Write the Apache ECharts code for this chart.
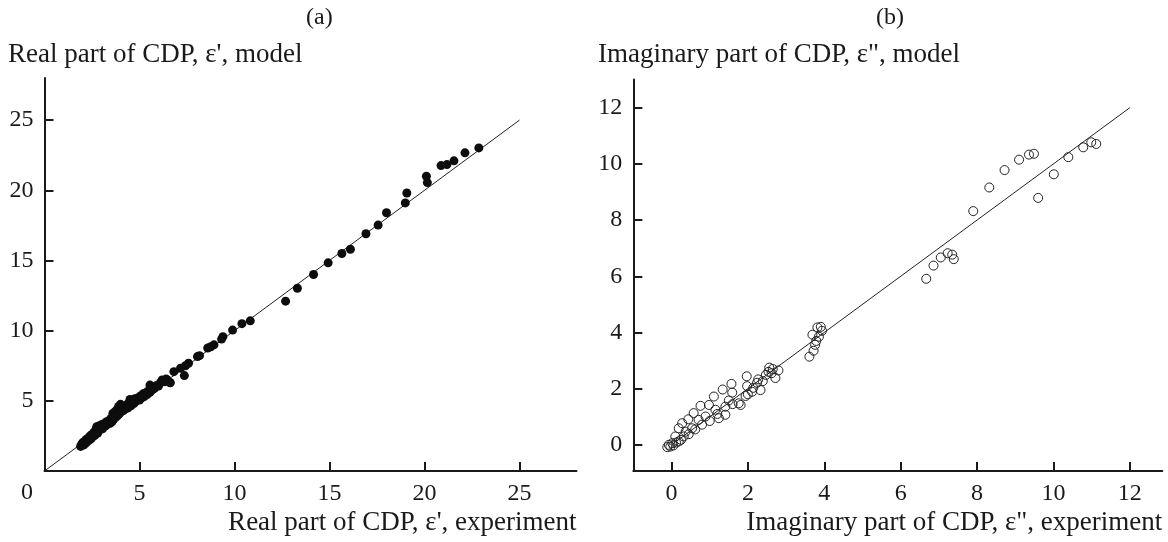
<!DOCTYPE html>
<html>
<head>
<meta charset="utf-8">
<script src="https://cdn.jsdelivr.net/npm/echarts@6/dist/echarts.min.js"></script>
<style>
html, body { margin: 0; padding: 0; background: #fff; }
#chart { width: 1168px; height: 542px; }
</style>
</head>
<body>
<div id="chart"></div>
<script>
// (a) real part of CDP: experiment (x) vs model (y)
const realExp = [
  22.86, 22.13, 21.55, 21.18, 20.87, 20.1, 20.15, 19.07, 18.99, 18.0, 17.56, 16.92, 16.1, 15.65, 14.93, 14.16, 13.31, 12.69,
  10.83, 10.39, 9.9, 9.39, 9.32, 8.92, 8.59, 8.75, 8.16, 8.05, 7.58, 7.42, 7.16, 7.36, 6.81, 6.62, 6.19, 6.4, 5.55,
  1.9, 1.95, 2.0, 2.05, 2.1, 2.15, 2.2, 2.25, 2.3, 2.35, 2.4, 2.45, 2.5, 2.55, 2.6, 2.65, 2.7, 2.75, 2.8, 2.85,
  2.9, 2.95, 3.0, 3.05, 3.1, 3.2, 3.25, 3.3, 3.4, 3.45, 3.5, 3.55, 3.6, 3.65, 3.7, 3.75, 3.8, 3.85, 3.9, 3.95,
  4.0, 4.05, 4.1, 4.15, 4.2, 4.3, 4.35, 4.4, 4.5, 4.55, 4.6, 4.7, 4.75, 4.8, 4.9, 5.0, 5.05, 5.1, 5.2, 5.25,
  5.35, 5.4, 5.5, 5.55, 5.65, 5.7, 5.8, 5.9, 6.0, 6.1, 6.3, 6.45, 6.6
]
const realModel = [
  23.02, 22.67, 22.1, 21.83, 21.76, 21.0, 20.55, 19.81, 19.1, 18.4, 17.52, 16.9, 15.8, 15.5, 14.83, 14.0, 13.02, 12.1,
  10.7, 10.5, 10.04, 9.57, 9.4, 8.99, 8.76, 8.85, 8.22, 8.15, 7.68, 7.5, 7.32, 6.8, 7.08, 6.29, 6.48, 6.55, 6.12,
  1.75, 1.9, 2.0, 1.85, 2.1, 1.95, 2.25, 2.1, 2.35, 2.2, 2.5, 2.3, 2.6, 2.45, 2.75, 2.55, 2.95, 3.15, 2.7, 3.2,
  2.95, 3.1, 3.3, 3.0, 3.35, 3.2, 3.5, 3.3, 3.6, 3.4, 3.75, 3.5, 4.1, 3.7, 4.2, 3.85, 4.35, 3.95, 4.6, 4.1,
  4.75, 4.25, 4.5, 4.3, 4.6, 4.45, 4.75, 4.5, 5.1, 4.65, 4.9, 4.8, 5.15, 4.95, 5.2, 5.05, 5.35, 5.2, 5.5, 5.3,
  5.6, 5.45, 5.75, 5.6, 6.0, 5.8, 5.9, 6.1, 6.05, 6.3, 6.35, 6.5, 6.3
]
const realTicks = [5, 10, 15, 20, 25]
const realLine = [0, 25]

// (b) imaginary part of CDP: experiment (x) vs model (y)
const imagExp = [
  6.67, 6.86, 7.05, 7.23, 7.35, 7.39, 7.9, 8.32, 8.72, 9.1, 9.36, 9.49, 9.6, 10.01, 10.39, 10.78, 10.99, 11.12,
  3.61, 3.72, 3.76, 3.79, 3.69, 3.86, 3.82, 3.91, 3.94,
  2.8, 2.72, 2.56, 2.54, 2.47, 2.39, 2.27, 2.33, 2.11, 1.97, 1.98, 2.24, 2.14, 1.57, 1.59, 1.34, 1.11, 1.81,
  1.94, 1.5, 1.41, 0.98, 1.15, 1.24, 1.41, 1.76, 0.76, 0.58, 0.44, 0.28, 0.19, 0.71, 0.89, 0.37, 0.1, 0.54,
  0.32, 0.19, 0.02, -0.07, -0.03, -0.11, 0.05, 0.12, 0.25, 0.45, 0.62, 0.8, 1.0, 1.2, 1.6, 2.0, 2.62, 2.65
]
const imagModel = [
  5.91, 6.38, 6.67, 6.82, 6.77, 6.61, 8.32, 9.16, 9.78, 10.15, 10.33, 10.36, 8.79, 9.63, 10.24, 10.59, 10.77, 10.71,
  3.14, 3.35, 3.56, 3.7, 3.92, 3.85, 4.18, 4.2, 4.06,
  2.65, 2.38, 2.75, 2.6, 2.49, 2.27, 2.33, 1.95, 1.89, 2.44, 2.09, 2.21, 2.03, 2.17, 1.86, 1.97, 1.72, 1.42,
  1.74, 1.58, 1.36, 1.42, 1.25, 0.95, 1.07, 1.48, 1.39, 1.13, 0.91, 0.77, 0.59, 0.89, 1.01, 0.47, 0.3, 0.59,
  0.3, 0.12, 0.06, 0.0, -0.06, -0.08, -0.02, 0.08, 0.18, 0.38, 0.55, 0.72, 0.85, 1.1, 1.45, 1.8, 2.55, 2.7
]
const imagTicks = [0, 2, 4, 6, 8, 10, 12]
const imagLine = [0, 12]

const ink = '#1a1a1a'
const serif = 'Liberation Serif'

const zip = (xs, ys) => xs.map((x, i) => [x, ys[i]])

const axisBase = (ticks) => ({
  type: 'value',
  axisLine: { show: true, onZero: false, lineStyle: { color: ink, width: 2 } },
  axisTick: { show: true, inside: true, length: 9, customValues: ticks, lineStyle: { color: ink, width: 2 } },
  axisLabel: { customValues: ticks, color: ink, fontFamily: serif, fontSize: 24, margin: 11 },
  splitLine: { show: false },
})

// x axis title sits under the tick labels, flush with the axis end
const xName = (text) => ({
  name: text,
  nameLocation: 'end',
  nameGap: 0,
  nameTextStyle: {
    color: ink, fontFamily: serif, fontSize: 27,
    align: 'right', verticalAlign: 'top', padding: [38, 0, 0, 0],
  },
})

const chart = echarts.init(document.getElementById('chart'))

chart.setOption({
  animation: false,
  grid: [
    { left: 44.5, right: 591.5, top: 78, bottom: 71 },
    { left: 633.3, right: 5.7, top: 79.6, bottom: 71 },
  ],
  xAxis: [
    { gridIndex: 0, min: 0, max: 28, ...axisBase(realTicks), ...xName("Real part of CDP, ε', experiment") },
    { gridIndex: 1, min: -1, max: 12.85, ...axisBase(imagTicks), ...xName('Imaginary part of CDP, ε", experiment') },
  ],
  yAxis: [
    { gridIndex: 0, min: 0, max: 28, ...axisBase(realTicks) },
    { gridIndex: 1, min: -0.93, max: 13, ...axisBase(imagTicks) },
  ],
  graphic: [
    { type: 'text', left: 306, top: 6, style: { text: '(a)', fill: ink, font: '24px "Liberation Serif"' } },
    { type: 'text', left: 876, top: 6, style: { text: '(b)', fill: ink, font: '24px "Liberation Serif"' } },
    { type: 'text', left: 8, top: 41, style: { text: "Real part of CDP, ε', model", fill: ink, font: '27px "Liberation Serif"' } },
    { type: 'text', left: 598, top: 41, style: { text: 'Imaginary part of CDP, ε", model', fill: ink, font: '27px "Liberation Serif"' } },
    { type: 'text', left: 21, top: 481, style: { text: '0', fill: ink, font: '24px "Liberation Serif"' } },
  ],
  series: [
    {
      type: 'line', xAxisIndex: 0, yAxisIndex: 0,
      data: zip(realLine, realLine), symbol: 'none',
      lineStyle: { color: '#222', width: 1 }, z: 1,
    },
    {
      type: 'scatter', xAxisIndex: 0, yAxisIndex: 0,
      data: zip(realExp, realModel), symbolSize: 9,
      itemStyle: { color: '#0d0d0d', opacity: 1 }, z: 2,
    },
    {
      type: 'line', xAxisIndex: 1, yAxisIndex: 1,
      data: zip(imagLine, imagLine), symbol: 'none',
      lineStyle: { color: '#222', width: 1 }, z: 1,
    },
    {
      type: 'scatter', xAxisIndex: 1, yAxisIndex: 1,
      data: zip(imagExp, imagModel), symbolSize: 9,
      itemStyle: { color: 'rgba(0,0,0,0)', borderColor: '#222', borderWidth: 1, opacity: 1 }, z: 2,
    },
  ],
})
</script>
</body>
</html>
